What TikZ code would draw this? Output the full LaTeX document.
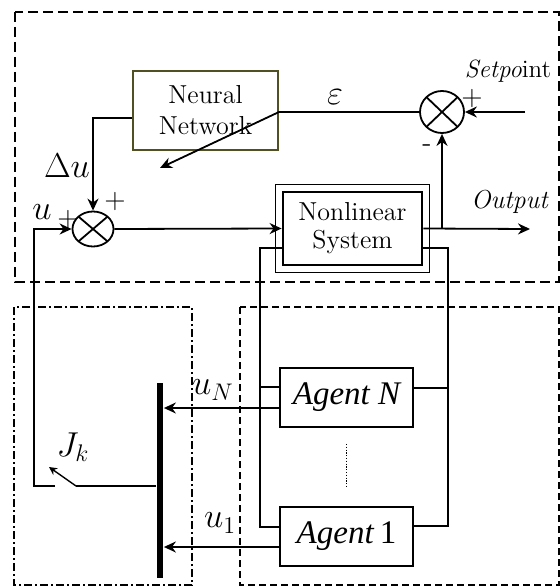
\documentclass[tikz,border=0pt]{standalone}
\usepackage{fontspec}
\newfontfamily\tnr{Liberation Serif}
\usetikzlibrary{arrows.meta,shapes.geometric}
\definecolor{olive}{RGB}{80,80,35}
\begin{document}
\begin{tikzpicture}[x=0.5pt,y=-0.5pt,line width=0.9pt,
  arr/.style={-{Stealth[length=6pt,width=5.5pt]}},
  sumnode/.style={ellipse,draw,line width=0.9pt,inner sep=0pt,
    path picture={\draw[line width=0.9pt]
      (path picture bounding box.north west)--(path picture bounding box.south east)
      (path picture bounding box.north east)--(path picture bounding box.south west);}},
  nnbox/.style={draw=olive,line width=1pt,align=center,font=\fontsize{13}{15.5}\selectfont,inner sep=0pt},
  nlbox/.style={draw,line width=1.4pt,align=center,font=\fontsize{13}{14}\selectfont,inner sep=0pt},
  agentbox/.style={draw,line width=0.9pt,inner sep=0pt,font=\tnr\fontsize{16.5}{18}\selectfont,minimum width=66.5pt,minimum height=29.5pt},
  lbl/.style={inner sep=0pt,font=\fontsize{17}{19}\selectfont},
  sgn/.style={inner sep=0pt,font=\fontsize{14}{16}\selectfont}
]
\useasboundingbox (0,0) rectangle (560,587);

% frames
\draw[dash pattern=on 5pt off 2.5pt] (15,12) rectangle (559,282);
\draw[line width=0.8pt,dash pattern=on 4pt off 1.5pt on 1pt off 1.5pt] (14,307) rectangle (192,585);
\draw[line width=0.8pt,dash pattern=on 3.5pt off 2pt] (240,307) rectangle (559,585);

% nodes
\node[sumnode,minimum width=20.5pt,minimum height=17.5pt] (s1) at (93,229) {};
\node[sumnode,minimum width=22pt,minimum height=21pt] (s2) at (442,112) {};
\node[nnbox,minimum width=72.5pt,minimum height=39.5pt] (nn) at (205.5,110.5) {Neural\\Network};
\node[nlbox,minimum width=69.5pt,minimum height=36.5pt] (nl) at (352.5,228.5) {Nonlinear\\System};
\draw[line width=0.6pt] ([shift={(-3pt,3pt)}]nl.north west) rectangle ([shift={(3pt,-3pt)}]nl.south east);
\node[agentbox] (aN) at (346.5,397.5) {\itshape Agent N};
\node[agentbox] (a1) at (346.5,536.5) {\textit{Agent}\,1};
\node[fill,inner sep=0pt,minimum width=3pt,minimum height=97.5pt] (bus) at (160,480.5) {};

\coordinate (epsend) at (160,168);
\coordinate (sp) at (525,112);
\coordinate (out) at (530,229);
\coordinate (L) at (260,0);
\coordinate (R) at (448,0);
\coordinate (swP) at (76,486);
\coordinate (swC) at (55,486);
\coordinate (swTip) at (49,467);
\coordinate (uc) at (34,486);

% connectors
\draw[arr] ([yshift=-3.75pt]nn.west) -| (s1.north);
\draw (s2.west) -- (nn.east |- s2.west);
\draw[arr] (nn.east |- s2.west) -- (epsend);
\draw[arr] (sp) -- (s2.east);
\draw[arr] (s1.east) -- (nl.west);
\draw[arr] (nl.east) -- (out);
\draw[arr] (s2.south |- nl.east) -- (s2.south);

\draw ([yshift=-9.75pt]nl.west) -| ([yshift=4.75pt]a1.west -| L) -- ([yshift=4.75pt]a1.west);
\draw ([yshift=5.25pt]aN.west -| L) -- ([yshift=5.25pt]aN.west);
\draw ([yshift=-9.75pt]nl.east) -| ([yshift=5.25pt]a1.east -| R) -- ([yshift=5.25pt]a1.east);
\draw ([yshift=4.75pt]aN.east -| R) -- ([yshift=4.75pt]aN.east);

\draw[arr] ([yshift=-5.25pt]aN.west) -- ([yshift=-5.25pt]aN.west -| bus.east);
\draw[arr] ([yshift=-5.25pt]a1.west) -- ([yshift=-5.25pt]a1.west -| bus.east);
\draw[line width=0.6pt,dash pattern=on 0.6pt off 0.8pt] ([yshift=-8pt]aN.south) -- ([yshift=10pt]a1.north);

\draw (swP -| bus.west) -- (swP);
\draw[line width=0.7pt,-{Stealth[length=4pt,width=4pt]}] (swP) -- (swTip);
\draw[arr] (swC) -- (uc) |- (s1.west);

% labels
\node[lbl] at (335,97) {$\varepsilon$};
\node[inner sep=0pt,font=\fontsize{12.5}{14}\selectfont] at (508,71) {\textit{Setpo}int};
\node[inner sep=0pt,font=\fontsize{13}{15}\selectfont] at (510,202) {\textit{Output}};
\node[sgn] at (472,99) {+};
\node[sgn] at (427,148) {-};
\node[sgn] at (115,202) {+};
\node[sgn] at (68,220) {+};
\node[lbl] at (67,166) {$\Delta u$};
\node[lbl] at (42,212) {$u$};
\node[lbl] at (213,390) {$u_N$};
\node[lbl] at (220,523) {$u_1$};
\node[lbl] at (73,447) {$J_k$};
\end{tikzpicture}
\end{document}
